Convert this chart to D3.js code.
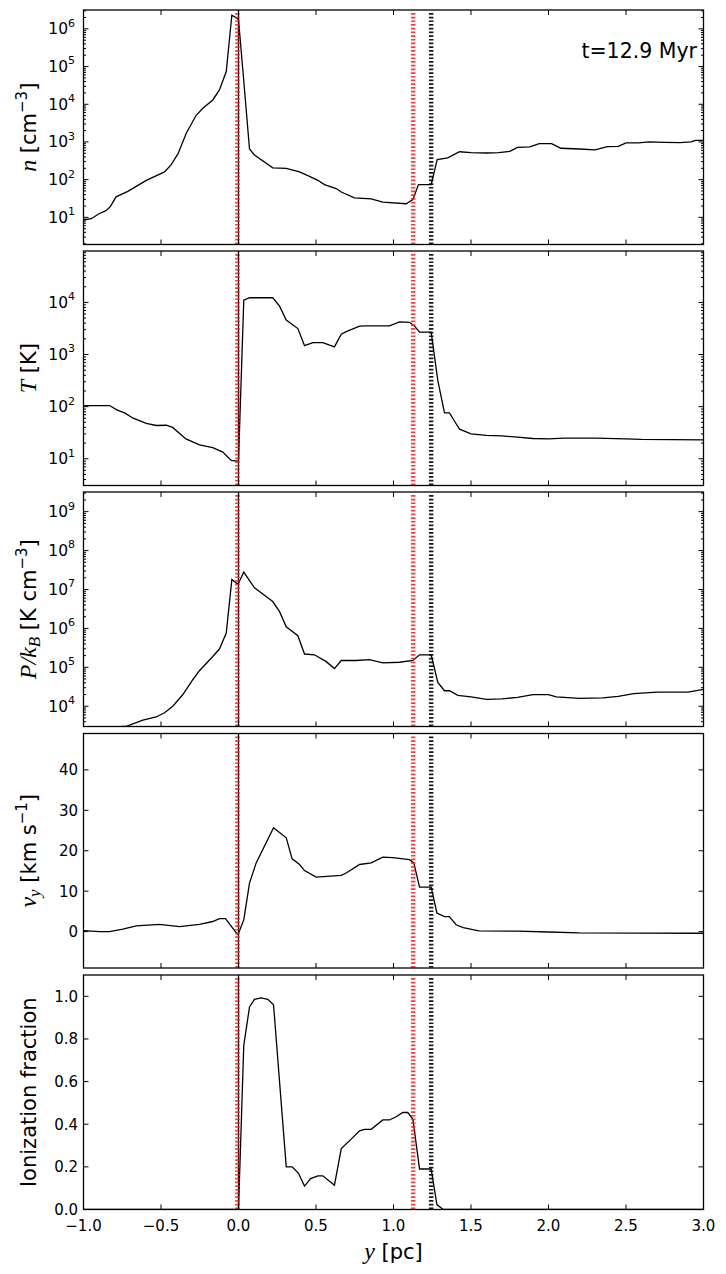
<!DOCTYPE html>
<html><head><meta charset="utf-8">
<script src="https://cdn.jsdelivr.net/npm/d3@7"></script>
<style>
body{margin:0;background:#fff}
text{font-family:"DejaVu Sans",sans-serif;fill:#000}
</style></head>
<body>
<svg id="c" width="726" height="1274"></svg>
<script>
// ---------- data ----------
const xTicks = [-1.0,-0.5,0.0,0.5,1.0,1.5,2.0,2.5,3.0];
const xTickLabels = ["\u22121.0","\u22120.5","0.0","0.5","1.0","1.5","2.0","2.5","3.0"];
const vTicks = [0,10,20,30,40];
const fracTicks = [0.0,0.2,0.4,0.6,0.8,1.0];
const fracTickLabels = ["0.0","0.2","0.4","0.6","0.8","1.0"];
const timeLabel = "t=12.9 Myr";
const redLineX = -0.007;
const blackSolidX = 0.0;
const blackDashX = 1.243;
const redDash2X = 1.127;

const nX = [-1.0,-0.95,-0.9,-0.855,-0.826,-0.79,-0.714,-0.595,-0.477,-0.434,-0.39,-0.337,-0.273,-0.23,-0.166,-0.123,-0.079,-0.043,-0.008,0.0,0.028,0.071,0.103,0.221,0.308,0.394,0.458,0.512,0.555,0.63,0.663,0.748,0.856,0.931,1.082,1.125,1.161,1.243,1.282,1.35,1.426,1.5,1.6,1.68,1.75,1.8,1.88,1.94,2.02,2.08,2.2,2.3,2.38,2.45,2.5,2.58,2.65,2.75,2.85,2.92,2.95,3.0];
const nY = [8.5,9.2,12.5,15,19.5,35,49,96,160,250,490,1700,5100,7800,13000,24000,74000,2.3e6,1.9e6,1.74e6,81000,650,450,205,200,160,122,96,74,58,47,33,31,25.5,23,29.5,74,74,340,380,550,520,510,520,560,720,740,900,900,680,650,620,750,760,950,950,1000,980,960,1000,1100,1100];

const tX = [-1.0,-0.832,-0.785,-0.735,-0.68,-0.595,-0.531,-0.466,-0.425,-0.339,-0.252,-0.166,-0.101,-0.047,-0.008,0.0,0.034,0.071,0.221,0.265,0.308,0.383,0.426,0.48,0.544,0.619,0.663,0.695,0.781,0.824,0.974,1.039,1.103,1.135,1.168,1.243,1.286,1.329,1.361,1.404,1.426,1.5,1.6,1.7,1.8,1.9,2.0,2.1,2.3,2.5,2.6,3.0];
const tY = [105,105,87,76,60,48,43.5,44,40,24,18.5,16.3,13.4,9.3,9,9,11000,12300,12300,8500,4600,3150,1480,1700,1700,1400,2450,2750,3500,3550,3550,4250,4150,3550,2700,2700,315,76,76,47,37,30,28,27.5,26,24.5,24,25,25,24,23.5,23];

const pX = [-1.0,-0.85,-0.77,-0.72,-0.617,-0.531,-0.477,-0.424,-0.359,-0.295,-0.252,-0.166,-0.123,-0.079,-0.043,-0.008,0.0,0.034,0.103,0.221,0.265,0.308,0.383,0.426,0.49,0.566,0.619,0.663,0.76,0.845,0.931,1.039,1.125,1.168,1.243,1.286,1.329,1.361,1.415,1.5,1.6,1.7,1.8,1.9,2.0,2.05,2.2,2.35,2.45,2.55,2.7,2.9,3.0];
const pY = [2200,2700,3000,3100,4400,5300,6800,10000,20000,48000,82000,190000,295000,760000,1.8e7,1.4e7,1.45e7,2.8e7,1.1e7,4.9e6,2.7e6,1.1e6,6.5e5,2.2e5,2.1e5,1.4e5,9.3e4,1.5e5,1.5e5,1.58e5,1.3e5,1.35e5,1.5e5,2.1e5,2.1e5,41000,25000,25000,19000,17500,15000,15500,17000,20000,20000,17500,16000,16500,18000,21000,23000,23000,27000];

const vX = [-1.0,-0.897,-0.832,-0.746,-0.66,-0.51,-0.38,-0.252,-0.166,-0.123,-0.084,-0.008,0.0,0.034,0.071,0.114,0.226,0.308,0.346,0.394,0.426,0.501,0.663,0.695,0.781,0.856,0.931,0.995,1.103,1.131,1.168,1.243,1.28,1.329,1.36,1.404,1.45,1.55,1.8,2.0,2.2,3.0];
const vY = [0.25,0,0,0.6,1.4,1.8,1.25,1.8,2.5,3.2,3.2,-0.6,-0.4,2.9,12,17,25.7,23.2,18,16.6,15.1,13.5,13.9,14.5,16.6,17,18.4,18.3,17.8,17,11,11,4.6,3.7,3.7,1.7,1.0,0.2,0.1,-0.1,-0.3,-0.4];

const fX = [-1.0,-0.01,0.0,0.034,0.071,0.103,0.146,0.189,0.226,0.308,0.346,0.387,0.426,0.465,0.512,0.544,0.619,0.663,0.727,0.781,0.813,0.856,0.931,0.974,1.017,1.06,1.092,1.125,1.168,1.243,1.28,1.32,3.0];
const fY = [0,0,0,0.77,0.95,0.986,0.993,0.986,0.96,0.2,0.2,0.17,0.11,0.145,0.158,0.158,0.114,0.286,0.33,0.369,0.376,0.376,0.42,0.42,0.435,0.455,0.455,0.424,0.19,0.19,0.023,0.0,0.0];

// ---------- layout ----------
const svg = d3.select("#c");
const L = 83.5, R = 703.5, H = 234.5;
const tops = [10, 251, 492, 733.5, 975];
const x = d3.scaleLinear().domain([-1,3]).range([L,R]);

const panels = [
  {xs:nX, ys:nY, log:true, dom:[Math.pow(10,0.28), Math.pow(10,6.5)], label:"n"},
  {xs:tX, ys:tY, log:true, dom:[Math.pow(10,0.487), Math.pow(10,4.987)], label:"T"},
  {xs:pX, ys:pY, log:true, dom:[Math.pow(10,3.48), Math.pow(10,9.505)], label:"P"},
  {xs:vX, ys:vY, log:false, dom:[-9,49], ticks:vTicks, tickLabels:vTicks.map(String), label:"v"},
  {xs:fX, ys:fY, log:false, dom:[0,1.1], ticks:fracTicks, tickLabels:fracTickLabels, label:"f"}
];

const serif = "Liberation Serif";

panels.forEach((p,i)=>{
  const top = tops[i], bot = top + H;
  const y = (p.log ? d3.scaleLog() : d3.scaleLinear()).domain(p.dom).range([bot, top]);
  const g = svg.append("g");
  const cid = "clip"+i;
  svg.append("clipPath").attr("id",cid).append("rect").attr("x",L).attr("y",top).attr("width",R-L).attr("height",H);

  // data line
  const pts = p.xs.map((d,k)=>[d,p.ys[k]]);
  g.append("path").attr("clip-path",`url(#${cid})`)
    .attr("d", d3.line().x(d=>x(d[0])).y(d=>y(d[1]))(pts))
    .attr("fill","none").attr("stroke","#000").attr("stroke-width",1.3).attr("stroke-linejoin","miter");

  // vertical markers
  const vl = g.append("g").attr("clip-path",`url(#${cid})`);
  vl.append("line").attr("x1",x(blackSolidX)).attr("x2",x(blackSolidX)).attr("y1",top).attr("y2",bot)
    .attr("stroke","#000").attr("stroke-width",1.3);
  [[redLineX,"#ff1a1a"],[redDash2X,"#ff1a1a"],[blackDashX,"#000"]].forEach(([xv,col])=>{
    vl.append("line").attr("x1",x(xv)).attr("x2",x(xv)).attr("y1",top+3).attr("y2",bot)
      .attr("stroke",col).attr("stroke-width",4.5).attr("stroke-dasharray","1.7,2.0")
      .attr("opacity", col==="#000"?0.9:0.85);
  });

  // frame
  g.append("rect").attr("x",L).attr("y",top).attr("width",R-L).attr("height",H)
    .attr("fill","none").attr("stroke","#000").attr("stroke-width",1.3);

  // x ticks (top & bottom, inward)
  xTicks.forEach(t=>{
    g.append("line").attr("x1",x(t)).attr("x2",x(t)).attr("y1",bot).attr("y2",bot-5).attr("stroke","#000").attr("stroke-width",1);
    g.append("line").attr("x1",x(t)).attr("x2",x(t)).attr("y1",top).attr("y2",top+5).attr("stroke","#000").attr("stroke-width",1);
  });

  // y ticks
  if (p.log) {
    const e0 = Math.ceil(Math.log10(p.dom[0])), e1 = Math.floor(Math.log10(p.dom[1]));
    for (let e=Math.floor(Math.log10(p.dom[0])); e<=e1; e++) {
      for (let k=1;k<10;k++){
        const v = k*Math.pow(10,e);
        if (v < p.dom[0] || v > p.dom[1]) continue;
        const len = k===1 ? 5 : 2.5;
        g.append("line").attr("x1",L).attr("x2",L+len).attr("y1",y(v)).attr("y2",y(v)).attr("stroke","#000").attr("stroke-width",1);
        g.append("line").attr("x1",R).attr("x2",R-len).attr("y1",y(v)).attr("y2",y(v)).attr("stroke","#000").attr("stroke-width",1);
      }
    }
    for (let e=e0; e<=e1; e++){
      const tx = g.append("text").attr("x",75).attr("y",y(Math.pow(10,e))+5.5).attr("text-anchor","end").attr("font-size",15.5);
      tx.append("tspan").text("10");
      tx.append("tspan").attr("font-size",11).attr("dy",-7.6).text(String(e));
    }
  } else {
    p.ticks.forEach((t,k)=>{
      g.append("line").attr("x1",L).attr("x2",L+5).attr("y1",y(t)).attr("y2",y(t)).attr("stroke","#000").attr("stroke-width",1);
      g.append("line").attr("x1",R).attr("x2",R-5).attr("y1",y(t)).attr("y2",y(t)).attr("stroke","#000").attr("stroke-width",1);
      g.append("text").attr("x",78).attr("y",y(t)+5.5).attr("text-anchor","end").attr("font-size",15).text(p.tickLabels[k]);
    });
  }

  // y label
  const cy = top + H/2;
  const lab = svg.append("text").attr("transform",`translate(36,${cy}) rotate(-90)`)
    .attr("text-anchor","middle").attr("font-size",21);
  const it = (s)=>lab.append("tspan").attr("font-family",serif).attr("font-style","italic").attr("font-size",24).text(s);
  const rm = (s)=>lab.append("tspan").text(s);
  if (p.label==="n") {
    it("n"); rm(" [cm"); lab.append("tspan").attr("font-size",15).attr("dy",-9).text("\u22123"); lab.append("tspan").attr("dy",9).text("]");
  } else if (p.label==="T") {
    it("T"); rm(" [K]");
  } else if (p.label==="P") {
    it("P/k"); lab.append("tspan").attr("font-family",serif).attr("font-style","italic").attr("font-size",17).attr("dy",4).text("B");
    lab.append("tspan").attr("dy",-4).text(" [K cm"); lab.append("tspan").attr("font-size",15).attr("dy",-9).text("\u22123"); lab.append("tspan").attr("dy",9).text("]");
  } else if (p.label==="v") {
    it("v"); lab.append("tspan").attr("font-family",serif).attr("font-style","italic").attr("font-size",17).attr("dy",4).text("y");
    lab.append("tspan").attr("dy",-4).text(" [km s"); lab.append("tspan").attr("font-size",15).attr("dy",-9).text("\u22121"); lab.append("tspan").attr("dy",9).text("]");
  } else {
    rm("Ionization fraction");
  }

  // bottom x tick labels
  if (i===panels.length-1) {
    xTicks.forEach((t,k)=>{
      g.append("text").attr("x",x(t)).attr("y",bot+21).attr("text-anchor","middle").attr("font-size",15).text(xTickLabels[k]);
    });
  }
});

// x axis label
const xl = svg.append("text").attr("x",x(1)).attr("y",1259).attr("text-anchor","middle").attr("font-size",21);
xl.append("tspan").attr("font-family",serif).attr("font-style","italic").attr("font-size",24).text("y");
xl.append("tspan").text(" [pc]");

// time annotation
svg.append("text").attr("x",697).attr("y",58).attr("text-anchor","end").attr("font-size",20.5).text(timeLabel);
</script>
</body></html>
